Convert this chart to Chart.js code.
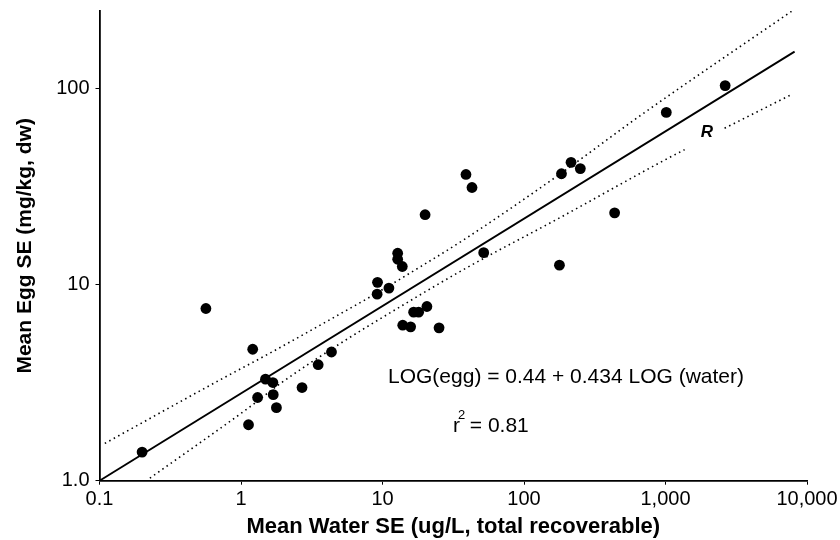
<!DOCTYPE html>
<html>
<head>
<meta charset="utf-8">
<script src="https://cdn.jsdelivr.net/npm/chart.js@4.4.1/dist/chart.umd.min.js"></script>
<style>
    body { margin: 0; background: #fff; }
    #wrap { width: 840px; height: 540px; }
</style>
</head>
<body>
<div id="wrap"><canvas id="egg-chart" width="840" height="540"></canvas></div>
<script>
// Mean water Se (ug/L) vs mean egg Se (mg/kg dw)
const waterSE = [0.2, 0.565, 1.21, 1.49, 1.68, 1.31, 1.69, 1.78, 1.13, 2.70, 3.51, 4.36,
    9.16, 9.22, 11.1, 12.8, 12.8, 13.8, 20.0, 38.9, 42.9, 51.9, 20.6, 16.6, 18.0, 13.9,
    15.8, 25.1, 184, 215, 250, 437, 178, 1013, 2640];
const eggSE = [1.40, 7.57, 4.69, 3.30, 3.17, 2.66, 2.75, 2.36, 1.93, 2.99, 3.91, 4.54,
    8.96, 10.3, 9.62, 14.5, 13.5, 12.4, 22.8, 36.6, 31.4, 14.6, 7.75, 7.25, 7.25, 6.22,
    6.10, 6.03, 36.9, 42.2, 39.2, 23.3, 12.6, 75.9, 104];

// regression line end points
const fitX = [0.1, 8170];
const fitY = [1.0, 155];

// dotted bands
const upperX = [0.109, 0.71, 1.60, 4.99, 8.14, 18.3, 38.1, 179, 656, 7770];
const upperY = [1.55, 3.27, 4.48, 7.09, 8.66, 12.3, 17.1, 36.7, 72.7, 249];
const lowerX = [0.227, 1.19, 1.88, 4.99, 13.3, 39.2, 179, 909, 1364, 1900, 2615, 7735];
const lowerY = [1.03, 2.42, 3.12, 5.00, 7.72, 12.2, 22.0, 42.0, 49.0, null, 63.0, 93.5];

// axis ticks
const xTicks = [0.1, 1, 10, 100, 1000, 10000];
const xTickLabels = ["0.1", "1", "10", "100", "1,000", "10,000"];
const yTicks = [1, 10, 100];
const yTickLabels = ["1.0", "10", "100"];

function toPoints(xs, ys) {
    return xs.map((x, i) => ({ x: x, y: ys[i] }));
}

const FONT = "'Liberation Sans', Arial, Helvetica, sans-serif";

// equation, r squared and the R label
const notesPlugin = {
    id: "notes",
    afterDraw(chart) {
        const ctx = chart.ctx;
        ctx.save();
        ctx.fillStyle = "#000";
        ctx.textBaseline = "alphabetic";
        ctx.textAlign = "left";

        ctx.font = "21px " + FONT;
        ctx.fillText("LOG(egg) = 0.44 + 0.434 LOG (water)", 388, 383);

        ctx.fillText("r", 453, 432);
        const rw = ctx.measureText("r").width;
        ctx.font = "13px " + FONT;
        ctx.fillText("2", 453 + rw - 2, 419);
        ctx.font = "21px " + FONT;
        ctx.fillText(" = 0.81", 453 + rw + 4, 432);

        ctx.font = "italic bold 17px " + FONT;
        ctx.textAlign = "center";
        ctx.textBaseline = "middle";
        ctx.fillText("R", 707, 132);
        ctx.restore();
    }
};

const ctx = document.getElementById("egg-chart");

new Chart(ctx, {
    type: "scatter",
    data: {
        datasets: [
            {
                label: "Sites",
                data: toPoints(waterSE, eggSE),
                pointRadius: 5.4,
                pointBackgroundColor: "#000",
                pointBorderWidth: 0,
                showLine: false
            },
            {
                label: "Regression",
                data: toPoints(fitX, fitY),
                showLine: true,
                borderColor: "#000",
                borderWidth: 1.9,
                pointRadius: 0
            },
            {
                label: "Upper",
                data: toPoints(upperX, upperY),
                showLine: true,
                borderColor: "#000",
                borderWidth: 1.6,
                borderDash: [1.5, 3.6],
                pointRadius: 0,
                cubicInterpolationMode: "monotone"
            },
            {
                label: "Lower",
                data: toPoints(lowerX, lowerY),
                showLine: true,
                spanGaps: false,
                borderColor: "#000",
                borderWidth: 1.6,
                borderDash: [1.5, 3.6],
                pointRadius: 0,
                cubicInterpolationMode: "monotone"
            }
        ]
    },
    options: {
        responsive: false,
        animation: false,
        layout: {
            padding: { left: 0, right: 33, top: 11, bottom: 0 }
        },
        plugins: {
            legend: { display: false },
            tooltip: { enabled: false }
        },
        scales: {
            x: {
                type: "logarithmic",
                min: 0.1,
                max: 10000,
                afterBuildTicks: function (scale) {
                    scale.ticks = xTicks.map(v => ({ value: v }));
                },
                afterFit: function (scale) {
                    scale.height = 59.3;
                    scale.paddingLeft = 0;
                    scale.paddingRight = 0;
                },
                border: { display: true, color: "#000", width: 1.8 },
                grid: { drawOnChartArea: false, drawTicks: true, tickLength: 4, color: "#000" },
                ticks: {
                    autoSkip: false,
                    maxRotation: 0,
                    padding: 3,
                    color: "#000",
                    font: { family: FONT, size: 20 },
                    callback: (value, index) => xTickLabels[index]
                },
                title: {
                    display: true,
                    text: "Mean Water SE (ug/L, total recoverable)",
                    color: "#000",
                    font: { family: FONT, size: 22, weight: "bold" },
                    padding: { top: 0, bottom: 0 }
                }
            },
            y: {
                type: "logarithmic",
                min: 1,
                max: 250,
                afterBuildTicks: function (scale) {
                    scale.ticks = yTicks.map(v => ({ value: v }));
                },
                afterFit: function (scale) {
                    scale.width = 99.5;
                    scale.paddingTop = 0;
                    scale.paddingBottom = 0;
                },
                border: { display: true, color: "#000", width: 1.8 },
                grid: { drawOnChartArea: false, drawTicks: true, tickLength: 4, color: "#000" },
                ticks: {
                    autoSkip: false,
                    padding: 6,
                    color: "#000",
                    font: { family: FONT, size: 20 },
                    callback: (value, index) => yTickLabels[index]
                },
                title: {
                    display: true,
                    text: "Mean Egg SE (mg/kg, dw)",
                    color: "#000",
                    font: { family: FONT, size: 21, weight: "bold" },
                    padding: { top: 13, bottom: 0 }
                }
            }
        }
    },
    plugins: [notesPlugin]
});
</script>
</body>
</html>
